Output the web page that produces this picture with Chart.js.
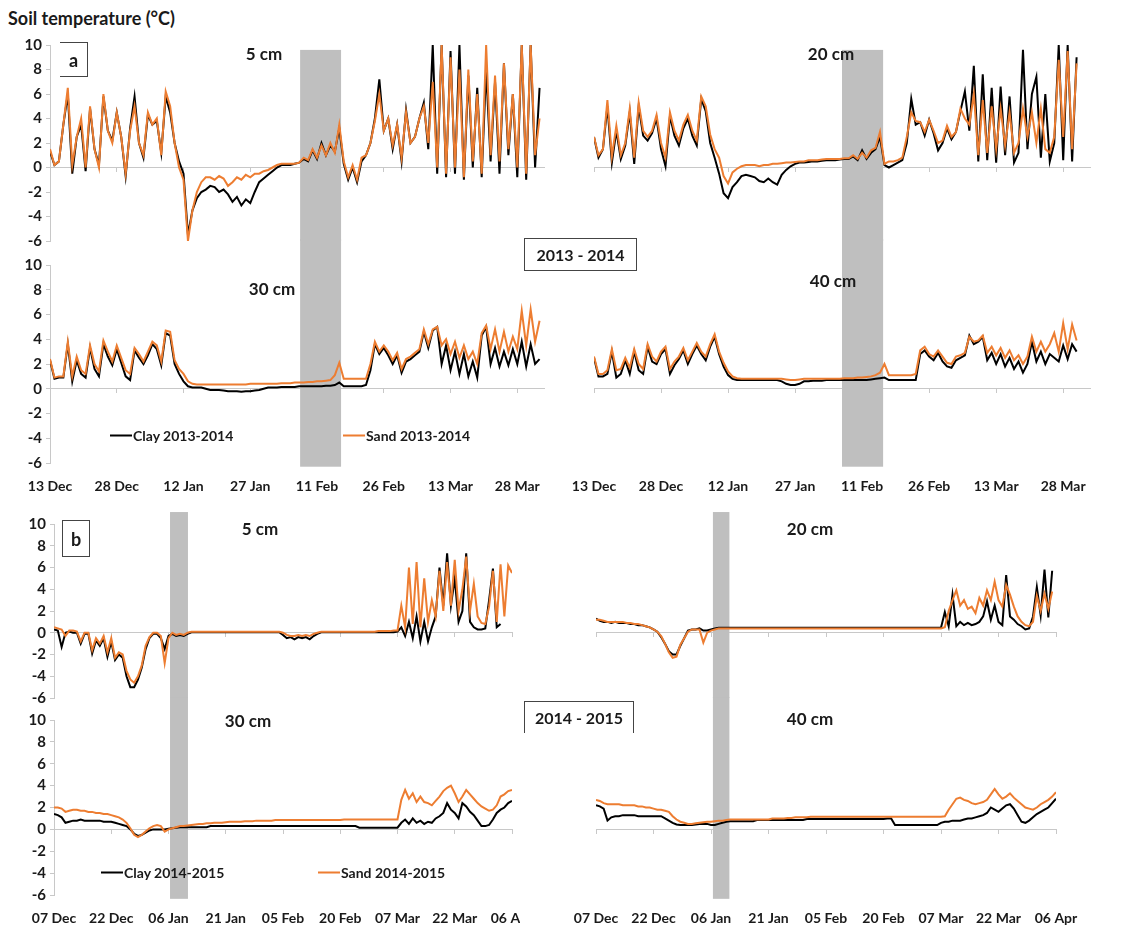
<!DOCTYPE html>
<html>
<head>
<meta charset="utf-8">
<title>Soil temperature</title>
<script src="https://cdn.jsdelivr.net/npm/chart.js@4.4.1/dist/chart.umd.min.js"></script>
<style>
  body { margin: 0; background: #fff; }
  #page { position: relative; width: 1121px; height: 927px; overflow: hidden; font-family: Lato, "Open Sans", sans-serif; color: #1a1a1a; }
  #page canvas { position: absolute; z-index: 1; }
  .txt { position: absolute; z-index: 2; font-weight: bold; font-size: 17px; white-space: nowrap; transform: translate(-50%, -50%); }
  .box { position: absolute; z-index: 2; font-weight: bold; font-size: 16px; box-sizing: border-box; display: flex; align-items: center; justify-content: center; border-color: #444; border-style: solid; border-width: 0; }
  .leg { position: absolute; z-index: 2; font-weight: bold; font-size: 14px; white-space: nowrap; display: flex; align-items: center; transform: translateY(-50%); }
  .leg i { display: inline-block; width: 22px; height: 2px; margin-right: 1px; }
</style>
</head>
<body>
<div id="page">
  <div class="txt" style="left:8px;top:7px;transform:none;font-size:18px">Soil temperature (°C)</div>

  <div class="box" style="left:60px;top:42px;width:28px;height:35px;border-width:1.5px 1.5px 1.5px 0;font-size:18px">a</div>
  <div class="box" style="left:62px;top:520px;width:28px;height:37px;border-width:1.5px;font-size:18px">b</div>
  <div class="box" style="left:524px;top:238px;width:113px;height:33px;border-width:1.5px">2013 - 2014</div>
  <div class="box" style="left:524px;top:701px;width:110px;height:32px;border-width:1.5px 1.5px 0 1.5px">2014 - 2015</div>

  <div class="txt" style="left:264px;top:53px">5 cm</div>
  <div class="txt" style="left:831px;top:53px">20 cm</div>
  <div class="txt" style="left:272px;top:288px">30 cm</div>
  <div class="txt" style="left:833px;top:280px">40 cm</div>
  <div class="txt" style="left:260px;top:528px">5 cm</div>
  <div class="txt" style="left:810px;top:528px">20 cm</div>
  <div class="txt" style="left:248px;top:720px">30 cm</div>
  <div class="txt" style="left:810px;top:718px">40 cm</div>

  <div class="leg" style="left:110px;top:435px"><i style="background:#000"></i>Clay 2013-2014</div>
  <div class="leg" style="left:343px;top:435px"><i style="background:#ED7D31"></i>Sand 2013-2014</div>
  <div class="leg" style="left:101px;top:872px"><i style="background:#000"></i>Clay 2014-2015</div>
  <div class="leg" style="left:318px;top:872px"><i style="background:#ED7D31"></i>Sand 2014-2015</div>
</div>

<script>
// x tick labels, one every 15 days
const ticksA = ["13 Dec", "28 Dec", "12 Jan", "27 Jan", "11 Feb", "26 Feb", "13 Mar", "28 Mar"];
const ticksB = ["07 Dec", "22 Dec", "06 Jan", "21 Jan", "05 Feb", "20 Feb", "07 Mar", "22 Mar", "06 Apr"];

// daily readings, index = days since 13 Dec 2013
const clayA5 = [1.3,0.2,0.5,3.5,6.0,-0.5,2.5,3.5,-0.3,4.8,
  1.5,0.2,5.8,3.0,2.2,4.5,2.5,-0.7,3.2,5.8,
  2.0,0.8,4.3,3.5,3.8,1.2,5.8,4.5,2.0,0.5,
  -0.5,-5.5,-3.5,-2.5,-2.0,-1.8,-1.5,-1.6,-2.0,-1.8,
  -2.2,-2.8,-2.4,-3.1,-2.6,-2.9,-2.0,-1.2,-0.9,-0.6,
  -0.3,0.0,0.2,0.2,0.2,0.3,0.4,0.7,0.5,1.4,
  0.7,2.0,1.0,1.8,1.3,3.2,0.3,-1.0,0.0,-1.2,
  0.5,1.0,2.0,4.0,7.2,3.0,4.0,1.5,3.5,0.5,
  4.7,2.0,2.5,4.0,5.3,1.5,10,-0.5,10,-0.8,
  9.5,-0.5,10,-1.0,7.5,0.0,6.5,-0.8,8.0,0.5,
  7.0,-0.5,8.5,1.0,6.0,-0.8,10,-1.0,10,0.0,
  6.5];
const sandA5 = [1.5,0.2,0.5,3.5,6.5,0.2,2.5,4.0,0.0,5.0,
  1.5,0.0,6.0,3.0,2.0,4.5,2.5,-0.5,3.0,5.0,
  2.0,1.0,4.5,3.5,4.0,1.0,6.2,5.0,2.0,0.0,
  -1.0,-6.0,-3.5,-2.0,-1.2,-0.8,-0.8,-1.0,-0.7,-0.9,
  -1.5,-1.2,-0.8,-1.0,-0.6,-0.8,-0.5,-0.5,-0.3,-0.2,
  0.0,0.2,0.3,0.3,0.3,0.3,0.4,0.8,0.6,1.5,
  0.8,1.8,1.0,2.0,1.2,3.5,0.5,-0.8,0.2,-1.0,
  0.8,1.0,2.0,3.8,6.0,3.0,4.0,1.8,3.5,0.8,
  4.5,2.0,2.5,4.0,5.0,2.0,7.0,0.0,10,-0.5,
  9.0,0.0,8.0,-0.8,8.0,0.5,6.0,-0.5,10,1.0,
  7.5,0.5,8.5,1.5,6.0,0.0,10,-0.5,10,1.0,
  4.0];

const clayA20 = [2.5,0.8,1.5,5.0,0.4,3.0,0.7,1.8,4.5,0.3,
  5.0,2.6,2.2,2.8,4.0,1.5,0.1,4.2,2.6,1.8,
  3.2,4.0,2.6,1.8,5.6,4.6,2.0,0.8,-0.5,-2.1,
  -2.5,-1.6,-1.2,-0.7,-0.6,-0.7,-0.8,-1.1,-1.2,-0.9,
  -1.2,-1.4,-0.6,-0.2,0.1,0.3,0.4,0.4,0.45,0.5,
  0.5,0.55,0.6,0.6,0.6,0.65,0.7,0.7,0.9,0.6,
  1.4,0.7,1.2,1.5,2.5,0.2,0.0,0.2,0.4,0.6,
  2.0,5.6,3.5,3.7,2.6,3.9,2.8,1.4,2.0,3.2,
  2.3,2.9,4.6,6.2,3.0,8.3,0.5,7.6,0.6,6.5,
  0.4,6.6,1.0,5.8,0.4,1.2,9.6,1.5,6.0,7.4,
  0.8,6.0,0.5,2.0,10,0.6,10,0.5,9.0];
const sandA20 = [2.5,1.0,1.5,5.5,0.9,3.4,1.0,2.0,4.8,0.8,
  5.3,3.0,2.5,3.0,4.3,2.0,0.8,4.5,3.0,2.2,
  3.5,4.3,3.0,2.2,5.8,5.0,2.7,1.5,0.8,-0.7,
  -1.3,-0.4,-0.1,0.1,0.2,0.2,0.2,0.1,0.2,0.2,
  0.3,0.3,0.35,0.4,0.4,0.45,0.5,0.5,0.6,0.6,
  0.6,0.65,0.7,0.7,0.7,0.7,0.75,0.75,1.0,0.7,
  1.2,0.8,1.4,1.6,2.9,0.3,0.5,0.5,0.6,0.8,
  2.5,4.5,3.8,3.7,2.9,3.9,3.0,2.0,2.2,3.4,
  2.5,2.9,4.8,4.0,3.5,6.0,1.0,5.5,1.2,5.0,
  1.5,4.8,1.8,4.5,1.2,2.0,4.8,2.5,4.5,2.0,
  4.8,1.5,1.2,2.5,8.8,2.5,9.5,1.5,8.5];

const clayA30 = [2.3,0.8,0.9,0.9,3.6,0.6,2.3,1.2,0.9,3.3,
  1.6,1.0,3.6,2.6,1.9,3.2,2.1,1.0,0.7,3.1,
  2.5,2.0,2.7,3.6,3.2,1.9,4.5,4.3,2.0,1.2,
  0.6,0.2,0.1,0.1,0.1,0.0,-0.1,-0.1,-0.1,-0.15,
  -0.2,-0.2,-0.2,-0.25,-0.2,-0.2,-0.15,-0.1,0.0,0.1,
  0.1,0.1,0.15,0.15,0.15,0.15,0.2,0.2,0.2,0.2,
  0.2,0.2,0.25,0.25,0.3,0.5,0.2,0.2,0.2,0.2,
  0.2,0.3,1.5,3.6,2.8,3.3,2.7,2.0,2.7,1.3,
  2.2,2.4,2.7,3.0,4.6,3.3,4.7,5.0,2.0,3.5,
  1.5,3.0,1.2,2.8,1.0,2.2,0.9,4.3,5.0,2.0,
  3.3,1.8,3.0,1.9,3.2,2.0,3.8,1.8,3.6,2.0,
  2.4];
const sandA30 = [2.4,0.9,1.0,1.0,3.8,1.0,2.6,1.5,1.2,3.5,
  2.0,1.4,3.9,3.0,2.2,3.5,2.5,1.5,1.2,3.3,
  2.8,2.2,3.0,3.8,3.5,2.2,4.7,4.6,2.3,1.6,
  1.2,0.6,0.4,0.35,0.35,0.35,0.35,0.35,0.35,0.35,
  0.35,0.35,0.35,0.35,0.35,0.4,0.4,0.4,0.4,0.4,
  0.4,0.4,0.45,0.45,0.45,0.5,0.5,0.5,0.55,0.55,
  0.6,0.6,0.65,0.7,1.1,2.1,0.8,0.8,0.8,0.8,
  0.8,0.8,2.0,3.8,3.0,3.5,3.0,2.3,2.9,1.6,
  2.4,2.6,2.9,3.2,4.8,3.6,4.8,5.0,3.5,4.0,
  2.8,3.8,2.5,3.5,2.4,3.0,2.0,4.5,5.1,3.2,
  4.8,3.0,4.6,3.0,4.2,3.2,6.3,3.5,6.4,3.8,
  5.5];

const clayA40 = [2.5,1.0,1.0,1.2,3.0,0.9,1.2,2.3,1.2,3.0,
  1.5,1.2,3.4,2.2,2.0,2.8,3.2,1.2,1.9,2.4,
  3.1,2.0,2.8,3.5,2.8,2.3,3.4,4.2,2.8,1.8,
  1.1,0.8,0.7,0.7,0.7,0.7,0.7,0.7,0.7,0.7,
  0.7,0.7,0.6,0.4,0.3,0.3,0.4,0.6,0.6,0.65,
  0.65,0.65,0.7,0.7,0.7,0.7,0.7,0.7,0.7,0.7,
  0.7,0.7,0.75,0.8,0.85,0.9,0.7,0.7,0.7,0.7,
  0.7,0.7,0.7,2.8,3.1,2.6,2.3,2.9,2.2,1.8,
  1.7,2.3,2.5,2.7,4.3,3.6,3.8,4.2,2.3,2.9,
  2.0,2.8,1.8,2.5,1.6,2.2,1.3,2.0,3.8,2.2,
  3.0,2.0,2.8,2.5,2.2,3.5,2.4,3.6,3.0];
const sandA40 = [2.6,1.2,1.2,1.5,3.2,1.5,1.6,2.5,1.7,3.2,
  2.0,1.6,3.6,2.6,2.2,3.0,3.4,1.6,2.2,2.6,
  3.3,2.3,3.0,3.7,3.0,2.6,3.6,4.4,3.0,2.1,
  1.4,1.0,0.85,0.8,0.8,0.8,0.8,0.8,0.8,0.8,
  0.8,0.8,0.8,0.75,0.7,0.7,0.75,0.8,0.8,0.8,
  0.8,0.8,0.8,0.8,0.8,0.8,0.85,0.85,0.85,0.9,
  0.9,0.95,1.0,1.1,1.3,2.0,1.1,1.1,1.1,1.1,
  1.1,1.1,1.2,3.1,3.4,2.8,2.6,3.1,2.6,2.1,
  2.0,2.6,2.7,2.9,4.2,3.8,3.9,4.3,2.9,3.4,
  2.7,3.3,2.5,3.1,2.3,2.7,2.0,2.6,4.2,3.0,
  3.8,3.0,3.6,4.5,3.0,5.3,3.2,5.2,3.9];

// daily readings, index = days since 07 Dec 2014
const clayB5 = [0.3,0.2,-1.3,0.0,0.1,0.0,0.0,-1.0,-0.1,-0.1,
  -1.9,-0.7,-1.2,-0.5,-2.2,-0.8,-2.5,-2.0,-2.3,-4.0,
  -5.0,-5.0,-4.3,-3.2,-1.5,-0.5,-0.1,-0.1,-0.5,-1.5,
  -0.3,-0.1,-0.3,-0.2,-0.3,-0.1,0.05,0.05,0.05,0.05,
  0.05,0.05,0.05,0.05,0.05,0.05,0.05,0.05,0.05,0.05,
  0.05,0.05,0.05,0.05,0.05,0.05,0.05,0.05,0.05,0.05,
  -0.2,-0.5,-0.4,-0.6,-0.4,-0.5,-0.4,-0.6,-0.3,-0.1,
  0.05,0.05,0.05,0.05,0.05,0.05,0.05,0.05,0.05,0.05,
  0.05,0.05,0.05,0.05,0.05,0.05,0.05,0.05,0.05,0.05,
  0.1,0.5,-0.3,1.0,-0.5,1.5,-0.8,1.0,-0.8,0.5,
  1.5,6.0,2.5,7.3,2.5,5.0,1.0,2.0,7.3,1.0,
  0.5,0.3,0.3,0.4,3.0,5.9,0.5,0.8];
const sandB5 = [0.5,0.4,0.3,-0.3,0.2,0.2,0.1,-0.8,0.0,0.0,
  -1.6,-0.5,-1.0,-0.3,-1.8,-0.5,-2.3,-1.8,-2.0,-3.5,
  -4.3,-4.6,-4.0,-3.0,-1.2,-0.4,0.0,0.0,-0.3,-2.8,
  -0.5,0.0,-0.2,-0.1,-0.2,0.0,0.1,0.1,0.1,0.1,
  0.1,0.1,0.1,0.1,0.1,0.1,0.1,0.1,0.1,0.1,
  0.1,0.1,0.1,0.1,0.1,0.1,0.1,0.1,0.1,0.1,
  0.0,-0.2,-0.3,-0.3,-0.2,-0.3,-0.2,-0.3,-0.1,0.0,
  0.1,0.1,0.1,0.1,0.1,0.1,0.1,0.1,0.1,0.1,
  0.1,0.1,0.1,0.1,0.1,0.15,0.15,0.15,0.15,0.2,
  0.2,2.5,0.5,6.0,0.8,6.5,0.5,5.0,1.0,3.0,
  1.5,5.7,2.0,6.5,2.5,6.7,2.0,4.0,7.0,2.0,
  4.5,1.5,0.9,0.8,2.4,5.7,1.0,6.3,1.5,6.2,
  5.5];

const clayB20 = [1.3,1.1,1.0,1.0,0.9,1.0,0.9,0.9,0.9,0.8,
  0.8,0.7,0.7,0.6,0.5,0.3,0.1,-0.4,-1.0,-1.7,
  -2.0,-2.0,-1.2,-0.5,0.2,0.3,0.3,0.4,0.2,0.2,
  0.3,0.4,0.45,0.45,0.45,0.45,0.45,0.45,0.45,0.45,
  0.45,0.45,0.45,0.45,0.45,0.45,0.45,0.45,0.45,0.45,
  0.45,0.45,0.45,0.45,0.45,0.45,0.45,0.45,0.45,0.45,
  0.45,0.45,0.45,0.45,0.45,0.45,0.45,0.45,0.45,0.45,
  0.45,0.45,0.45,0.45,0.45,0.45,0.45,0.45,0.45,0.45,
  0.45,0.45,0.45,0.45,0.45,0.45,0.45,0.45,0.45,0.45,
  0.45,1.9,0.6,3.5,0.6,1.0,0.7,0.9,0.7,0.8,
  1.0,1.5,2.9,1.2,2.5,1.0,0.7,5.3,1.5,1.2,
  0.8,0.6,0.3,0.4,1.5,4.2,1.6,5.8,1.4,5.7];
const sandB20 = [1.2,1.2,1.1,1.0,1.0,1.0,1.0,1.0,0.9,0.9,
  0.8,0.8,0.7,0.6,0.5,0.3,0.1,-0.3,-1.0,-1.8,
  -2.3,-2.2,-1.1,-0.5,0.1,0.3,0.3,0.3,-0.9,0.0,
  0.2,0.3,0.4,0.4,0.4,0.4,0.4,0.4,0.4,0.4,
  0.4,0.4,0.4,0.4,0.4,0.4,0.4,0.4,0.4,0.4,
  0.4,0.4,0.4,0.4,0.4,0.4,0.4,0.4,0.4,0.4,
  0.4,0.4,0.4,0.4,0.4,0.4,0.4,0.4,0.4,0.4,
  0.4,0.4,0.4,0.4,0.4,0.4,0.4,0.4,0.4,0.4,
  0.4,0.4,0.4,0.4,0.4,0.4,0.4,0.4,0.4,0.4,
  0.4,0.5,2.0,3.0,3.9,2.5,3.0,2.2,2.4,1.8,
  3.2,2.5,3.9,3.0,4.7,3.0,2.4,4.4,3.5,2.4,
  1.5,1.0,0.7,0.6,1.0,3.4,2.0,3.6,2.2,3.8];

const clayB30 = [1.4,1.3,1.1,0.6,0.7,0.8,0.8,0.9,0.8,0.8,
  0.8,0.8,0.8,0.7,0.7,0.7,0.6,0.5,0.4,0.3,
  0.0,-0.4,-0.6,-0.5,-0.3,-0.1,0.0,0.0,0.0,0.0,
  0.05,0.1,0.15,0.2,0.2,0.2,0.2,0.2,0.2,0.2,
  0.2,0.3,0.3,0.3,0.3,0.3,0.3,0.3,0.3,0.3,
  0.3,0.3,0.3,0.3,0.3,0.3,0.3,0.3,0.3,0.3,
  0.3,0.3,0.3,0.3,0.3,0.3,0.3,0.3,0.3,0.3,
  0.3,0.3,0.3,0.3,0.3,0.3,0.3,0.3,0.3,0.3,
  0.15,0.15,0.15,0.15,0.15,0.15,0.15,0.15,0.15,0.15,
  0.15,0.6,0.9,0.5,1.0,0.6,0.8,0.5,0.7,0.6,
  1.0,1.2,1.5,2.4,1.8,1.5,1.0,2.4,2.1,1.6,
  1.3,0.8,0.3,0.3,0.4,0.9,1.5,1.8,2.0,2.4,
  2.6];
const sandB30 = [2.0,2.0,1.9,1.6,1.7,1.8,1.8,1.7,1.7,1.6,
  1.6,1.5,1.5,1.4,1.4,1.3,1.2,1.1,0.9,0.6,
  0.1,-0.5,-0.7,-0.5,-0.2,0.1,0.3,0.4,0.3,-0.2,
  0.0,0.1,0.2,0.3,0.3,0.35,0.4,0.45,0.5,0.5,
  0.55,0.55,0.6,0.6,0.6,0.65,0.7,0.7,0.7,0.7,
  0.75,0.75,0.75,0.8,0.8,0.8,0.8,0.8,0.85,0.85,
  0.85,0.85,0.85,0.85,0.85,0.85,0.85,0.85,0.85,0.85,
  0.85,0.85,0.85,0.85,0.85,0.85,0.9,0.9,0.9,0.9,
  0.9,0.9,0.9,0.9,0.9,0.9,0.9,0.9,0.9,0.9,
  0.9,2.7,3.6,2.8,3.3,2.5,3.0,2.5,2.4,2.2,
  2.6,3.0,3.5,3.8,4.0,3.3,2.5,3.0,3.6,3.2,
  2.8,2.4,2.1,1.9,1.7,1.8,2.2,3.0,3.2,3.5,
  3.6];

const clayB40 = [2.2,2.1,1.9,0.8,1.1,1.2,1.2,1.3,1.3,1.3,
  1.3,1.2,1.2,1.2,1.2,1.2,1.2,1.2,1.0,0.8,
  0.6,0.45,0.4,0.4,0.4,0.4,0.45,0.5,0.5,0.5,
  0.4,0.4,0.5,0.6,0.7,0.75,0.75,0.75,0.75,0.75,
  0.75,0.75,0.85,0.85,0.85,0.85,0.85,0.85,0.85,0.85,
  0.85,0.85,0.85,0.85,0.85,0.95,0.95,0.95,0.95,0.95,
  0.95,0.95,0.95,0.95,0.95,0.95,0.95,0.95,0.95,0.95,
  0.95,0.95,0.95,0.95,0.95,0.95,1.0,1.0,0.4,0.4,
  0.4,0.4,0.4,0.4,0.4,0.4,0.4,0.4,0.4,0.4,
  0.6,0.7,0.7,0.8,0.8,0.8,0.9,1.0,1.0,1.1,
  1.2,1.3,1.5,2.0,1.8,1.6,1.9,2.2,2.3,1.9,
  1.3,0.7,0.6,0.8,1.1,1.4,1.6,1.8,2.0,2.4,
  2.8];
const sandB40 = [2.7,2.6,2.4,2.3,2.3,2.3,2.3,2.2,2.2,2.2,
  2.2,2.1,2.1,2.0,2.0,1.9,1.8,1.8,1.7,1.6,
  1.2,0.9,0.7,0.6,0.5,0.5,0.55,0.6,0.65,0.7,
  0.7,0.75,0.8,0.8,0.85,0.9,0.9,0.9,0.9,0.9,
  0.9,0.9,0.9,0.9,0.9,0.9,1.0,1.0,1.0,1.0,
  1.05,1.05,1.1,1.1,1.1,1.1,1.15,1.15,1.15,1.15,
  1.15,1.15,1.15,1.15,1.15,1.15,1.15,1.15,1.15,1.15,
  1.15,1.15,1.15,1.15,1.15,1.15,1.15,1.15,1.15,1.15,
  1.15,1.15,1.15,1.15,1.15,1.15,1.15,1.15,1.15,1.15,
  1.15,1.2,1.8,2.3,2.8,2.9,2.7,2.6,2.4,2.3,
  2.4,2.5,2.7,3.2,3.7,3.2,2.8,3.0,3.3,2.9,
  2.6,2.3,2.0,1.9,1.8,2.0,2.3,2.5,2.7,3.0,
  3.4];

// shaded periods (day from, day to)
const shadeA1 = [56.2, 65.4];
const shadeA2 = [55.5, 64.7];
const shadeB1 = [30.4, 35.1];
const shadeB2 = [30.5, 34.8];

Chart.defaults.font.family = "Lato, 'Open Sans', sans-serif";
Chart.defaults.font.size = 14;
Chart.defaults.font.weight = "bold";
Chart.defaults.color = "#1a1a1a";

const page = document.getElementById("page");

const shadePlugin = {
    id: "shade",
    beforeDatasetsDraw(chart, args, opts) {
        if (!opts || opts.from === undefined) return;
        const x = chart.scales.x, y = chart.scales.y;
        const x1 = x.getPixelForValue(opts.from), x2 = x.getPixelForValue(opts.to);
        const y1 = y.getPixelForValue(opts.top), y2 = y.getPixelForValue(opts.bottom);
        const ctx = chart.ctx;
        ctx.save();
        ctx.fillStyle = "#BFBFBF";
        ctx.fillRect(x1, y1, x2 - x1, y2 - y1);
        ctx.restore();
    }
};

function toPoints(arr) {
    return arr.map((v, i) => ({ x: i, y: v }));
}

function drawPanel(p) {
    const padL = p.yAxis ? 50 : 30;
    const padR = p.padR || 30;
    const padT = p.xLabels ? 30 : 16;
    const padB = p.xLabels ? 40 : 12;
    const yW = 38, xH = 36;

    const c = document.createElement("canvas");
    c.width = p.r - p.l + padL + padR;
    c.height = p.b - p.t + padT + padB;
    c.style.left = (p.l - padL) + "px";
    c.style.top = (p.t - padT) + "px";
    page.appendChild(c);

    new Chart(c, {
        type: "line",
        data: {
            datasets: [
                { label: p.clayName, data: toPoints(p.clay), borderColor: "#000", borderWidth: 2, pointRadius: 0, tension: 0, order: 1, xAxisID: "x", yAxisID: "y" },
                { label: p.sandName, data: toPoints(p.sand), borderColor: "#ED7D31", borderWidth: 2, pointRadius: 0, tension: 0, order: 0, xAxisID: "x", yAxisID: "y" }
            ]
        },
        options: {
            responsive: false,
            animation: false,
            devicePixelRatio: 1,
            layout: { padding: { left: padL - (p.yAxis ? yW : 0), right: padR, top: padT, bottom: padB - (p.xLabels ? xH : 0) } },
            plugins: {
                legend: { display: false },
                tooltip: { enabled: false },
                shade: { from: p.shade[0], to: p.shade[1], top: p.shadeTop, bottom: p.shadeBottom }
            },
            scales: {
                x: {
                    type: "linear", min: 0, max: p.xMax, display: p.xLabels,
                    grid: { display: false, drawTicks: false },
                    border: { display: false },
                    ticks: { stepSize: 15, includeBounds: false, autoSkip: false, maxRotation: 0, padding: 15,
                        callback: v => p.labels[v / 15] || "" },
                    afterFit: s => { if (p.xLabels) s.height = xH; s.paddingLeft = 0; s.paddingRight = 0; }
                },
                x0: {
                    axis: "x", type: "linear", min: 0, max: p.xMax, position: { y: 0 },
                    grid: { drawOnChartArea: false, color: "#C8C8C8", tickLength: 4 },
                    border: { color: "#C8C8C8" },
                    ticks: { display: false, stepSize: 15, includeBounds: false },
                    afterFit: s => { s.paddingLeft = 0; s.paddingRight = 0; }
                },
                y: {
                    type: "linear", min: -6, max: 10, position: "left", display: p.yAxis,
                    grid: { drawOnChartArea: false, color: "#C8C8C8", tickLength: 4 },
                    border: { color: "#C8C8C8" },
                    ticks: { stepSize: 2, padding: 4, font: { size: 15 } },
                    afterFit: s => { if (p.yAxis) s.width = yW; s.paddingTop = 0; s.paddingBottom = 0; }
                }
            }
        },
        plugins: [shadePlugin]
    });
}

const panels = [
    { l: 50, r: 544, t: 45, b: 241, xMax: 111, labels: ticksA, clay: clayA5, sand: sandA5, clayName: "Clay 2013-2014", sandName: "Sand 2013-2014",
      yAxis: true, xLabels: false, shade: shadeA1, shadeTop: 9.6, shadeBottom: -6 },
    { l: 50, r: 544, t: 265, b: 463, xMax: 111, labels: ticksA, clay: clayA30, sand: sandA30, clayName: "Clay 2013-2014", sandName: "Sand 2013-2014",
      yAxis: true, xLabels: true, shade: shadeA1, shadeTop: 12.1, shadeBottom: -6.3 },
    { l: 594, r: 1090, t: 45, b: 241, xMax: 111, labels: ticksA, clay: clayA20, sand: sandA20, clayName: "Clay 2013-2014", sandName: "Sand 2013-2014",
      yAxis: false, xLabels: false, shade: shadeA2, shadeTop: 9.6, shadeBottom: -6 },
    { l: 594, r: 1090, t: 265, b: 463, xMax: 111, labels: ticksA, clay: clayA40, sand: sandA40, clayName: "Clay 2013-2014", sandName: "Sand 2013-2014",
      yAxis: false, xLabels: true, shade: shadeA2, shadeTop: 12.1, shadeBottom: -6.3 },
    { l: 54, r: 512, t: 524, b: 698, xMax: 120, labels: ticksB, clay: clayB5, sand: sandB5, clayName: "Clay 2014-2015", sandName: "Sand 2014-2015",
      yAxis: true, xLabels: false, shade: shadeB1, shadeTop: 11.1, shadeBottom: -6 },
    { l: 54, r: 512, t: 720, b: 895, xMax: 120, labels: ticksB, clay: clayB30, sand: sandB30, clayName: "Clay 2014-2015", sandName: "Sand 2014-2015",
      yAxis: true, xLabels: true, shade: shadeB1, shadeTop: 12.1, shadeBottom: -6.35, padR: 8 },
    { l: 596, r: 1056, t: 524, b: 698, xMax: 120, labels: ticksB, clay: clayB20, sand: sandB20, clayName: "Clay 2014-2015", sandName: "Sand 2014-2015",
      yAxis: false, xLabels: false, shade: shadeB2, shadeTop: 11.1, shadeBottom: -6 },
    { l: 596, r: 1056, t: 720, b: 895, xMax: 120, labels: ticksB, clay: clayB40, sand: sandB40, clayName: "Clay 2014-2015", sandName: "Sand 2014-2015",
      yAxis: false, xLabels: true, shade: shadeB2, shadeTop: 12.1, shadeBottom: -6.35 }
];

panels.forEach(drawPanel);
</script>
</body>
</html>
